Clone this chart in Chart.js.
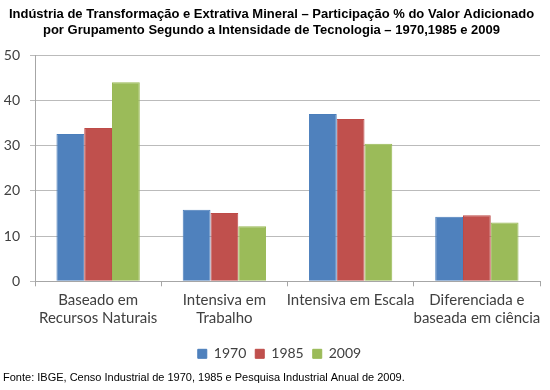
<!DOCTYPE html>
<html>
<head>
<meta charset="utf-8">
<script src="https://cdn.jsdelivr.net/npm/chart.js@4/dist/chart.umd.min.js"></script>
<style>
html,body{margin:0;padding:0;background:#fff;}
#wrap{width:550px;height:390px;position:relative;}
</style>
</head>
<body>
<div id="wrap"><canvas id="c" width="550" height="390"></canvas></div>
<script>
const categories = [["Baseado em","Recursos Naturais"],["Intensiva em","Trabalho"],["Intensiva em Escala"],["Diferenciada e","baseada em ciência"]];
const years = ["1970","1985","2009"];
const v1970 = [32.6, 15.8, 37.0, 14.3];
const v1985 = [33.9, 15.1, 35.9, 14.6];
const v2009 = [44.0, 12.2, 30.4, 13.0];
const yTicks = [0,10,20,30,40,50];

const fill = ["#4F81BD","#C0504D","#9BBB59"];
const border = ["#4A7EBB","#BE4B48","#98B954"];
const series = [v1970, v1985, v2009];

const legendShift = {
  id: 'legendShift',
  afterLayout(chart) {
    if (chart.legend) { chart.legend.left += 8; chart.legend.right += 8; }
  }
};

new Chart(document.getElementById('c'), {
  type: 'bar',
  plugins: [legendShift],
  data: {
    labels: categories,
    datasets: years.map((y,i)=>({
      label: y,
      data: series[i],
      backgroundColor: fill[i],
      borderColor: border[i],
      borderWidth: 1,
      categoryPercentage: 0.66,
      barPercentage: 1.0
    }))
  },
  options: {
    responsive: false,
    animation: false,
    layout: {padding: {left: 3, right: 10, top: 0, bottom: 4}},
    plugins: {
      title: {
        display: true,
        text: ["Indústria de Transformação e Extrativa Mineral – Participação % do Valor Adicionado","por Grupamento Segundo a Intensidade de Tecnologia – 1970,1985 e 2009"],
        font: {family: "'Liberation Sans', Arial", size: 13, weight: 'bold'},
        color: '#000',
        padding: {top: 7, bottom: 17},
        lineHeight: 1.15
      },
      subtitle: {
        display: true,
        position: 'bottom',
        align: 'start',
        text: "Fonte: IBGE, Censo Industrial de 1970, 1985 e Pesquisa Industrial Anual de 2009.",
        font: {family: "'Liberation Sans', Arial", size: 11},
        color: '#000',
        padding: {top: 1, bottom: 1}
      },
      legend: {
        position: 'bottom',
        labels: {
          boxWidth: 9, boxHeight: 9,
          padding: 9,
          color: '#404040',
          font: {family: "Lato, 'Open Sans'", size: 14}
        }
      },
      tooltip: {enabled: false}
    },
    scales: {
      x: {
        afterFit: (s)=>{ s.height += 6; },
        grid: {display: true, drawOnChartArea: false, drawTicks: true, tickLength: 5, color: '#A6A6A6', offset: true},
        border: {display: true, color: '#A6A6A6'},
        ticks: {color: '#404040', font: {family: "Lato, 'Open Sans'", size: 15, lineHeight: 1.25}, maxRotation: 0, autoSkip: false, padding: 4}
      },
      y: {
        min: 0, max: 50,
        afterBuildTicks: (s)=>{ s.ticks = yTicks.map(v=>({value:v})); },
        afterFit: (s)=>{ s.width = 32; },
        grid: {color: '#BBBBBB', tickLength: 5, drawTicks: true},
        border: {display: true, color: '#A6A6A6'},
        ticks: {color: '#404040', font: {family: "Lato, 'Open Sans'", size: 14}, padding: 10}
      }
    }
  }
});
</script>
</body>
</html>
